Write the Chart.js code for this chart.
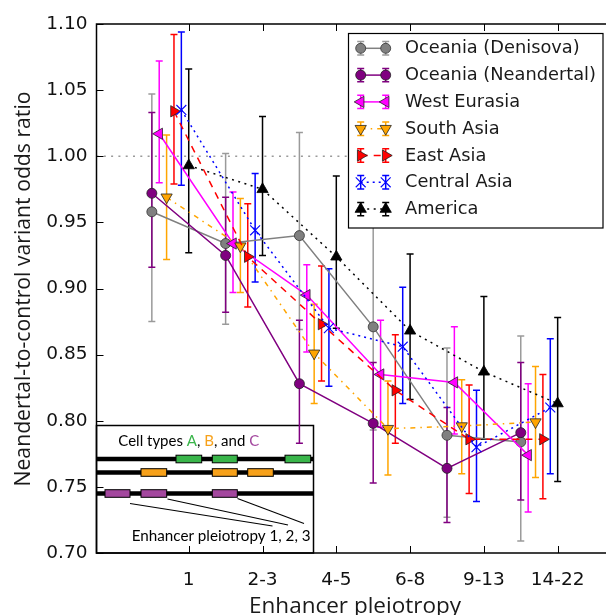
<!DOCTYPE html>
<html><head><meta charset="utf-8">
<script src="https://cdn.jsdelivr.net/npm/chart.js@4.4.1/dist/chart.umd.min.js"></script>
<style>html,body{margin:0;padding:0;overflow:hidden;background:#fff;width:606px;height:615px}canvas{display:block}</style>
</head><body>
<canvas id="c" width="625" height="615"></canvas>
<script>
// ---------- data ----------
const categories = ['1', '2-3', '4-5', '6-8', '9-13', '14-22'];
const yTickValues = [0.70, 0.75, 0.80, 0.85, 0.90, 0.95, 1.00, 1.05, 1.10];
const referenceLine = 1.00;
const seriesNames = ['Oceania (Denisova)', 'Oceania (Neandertal)', 'West Eurasia', 'South Asia', 'East Asia', 'Central Asia', 'America'];

const denisova     = [0.958, 0.934, 0.940, 0.871, 0.789, 0.784];
const denisovaLo   = [0.875, 0.873, 0.869, 0.793, 0.727, 0.709];
const denisovaHi   = [1.047, 1.002, 1.018, 0.955, 0.855, 0.864];

const neandertal   = [0.972, 0.925, 0.828, 0.798, 0.764, 0.791];
const neandertalLo = [0.916, 0.882, 0.783, 0.753, 0.723, 0.740];
const neandertalHi = [1.033, 0.969, 0.876, 0.844, 0.810, 0.844];

const westEurasia   = [1.017, 0.934, 0.895, 0.835, 0.829, 0.774];
const westEurasiaLo = [0.980, 0.897, 0.852, 0.795, 0.790, 0.731];
const westEurasiaHi = [1.072, 0.973, 0.918, 0.876, 0.871, 0.828];

const southAsia   = [0.969, 0.932, 0.851, 0.794, 0.796, 0.799];
const southAsiaLo = [0.922, 0.897, 0.813, 0.759, 0.760, 0.757];
const southAsiaHi = [1.016, 0.968, 0.888, 0.830, 0.831, 0.841];

const eastAsia   = [1.034, 0.924, 0.873, 0.823, 0.786, 0.786];
const eastAsiaLo = [0.979, 0.886, 0.830, 0.783, 0.745, 0.741];
const eastAsiaHi = [1.092, 0.964, 0.917, 0.865, 0.827, 0.835];

const centralAsia   = [1.035, 0.944, 0.870, 0.856, 0.780, 0.810];
const centralAsiaLo = [0.978, 0.905, 0.826, 0.813, 0.739, 0.760];
const centralAsiaHi = [1.094, 0.987, 0.915, 0.901, 0.823, 0.862];

const america   = [0.993, 0.975, 0.924, 0.868, 0.837, 0.813];
const americaLo = [0.927, 0.925, 0.870, 0.816, 0.786, 0.754];
const americaHi = [1.066, 1.030, 0.985, 0.926, 0.894, 0.878];

const xTitle = 'Enhancer pleiotropy';
const yTitle = 'Neandertal-to-control variant odds ratio';
const insetCaption = 'Enhancer pleiotropy 1, 2, 3';

// ---------- assembled ----------
const seriesValues = [denisova, neandertal, westEurasia, southAsia, eastAsia, centralAsia, america];
const seriesLo = [denisovaLo, neandertalLo, westEurasiaLo, southAsiaLo, eastAsiaLo, centralAsiaLo, americaLo];
const seriesHi = [denisovaHi, neandertalHi, westEurasiaHi, southAsiaHi, eastAsiaHi, centralAsiaHi, americaHi];

// ---------- styles ----------
const styles = [
  {color:'#808080', bar:'#9a9a9a', fill:'#808080', edge:'#333', ew:0.8, point:'circle',   rot:0,   r:5,   dash:[],            offset:-0.5},
  {color:'#800080', bar:'#800080', fill:'#800080', edge:'#222', ew:0.8, point:'circle',   rot:0,   r:5,   dash:[],            offset:-0.5},
  {color:'#ff00ff', bar:'#ff00ff', fill:'#ff00ff', edge:'#222', ew:0.8, point:'triangle', rot:-90, r:6.5, dash:[],            offset:-0.4},
  {color:'#ffa500', bar:'#ffa500', fill:'#ffa500', edge:'#222', ew:0.8, point:'triangle', rot:180, r:6.5, dash:[5,5,1.5,5],   offset:-0.3},
  {color:'#ff0000', bar:'#ff0000', fill:'#ff0000', edge:'#222', ew:0.8, point:'triangle', rot:90,  r:6.5, dash:[7,6],         offset:-0.2},
  {color:'#0000ff', bar:'#0000ff', fill:'#0000ff', edge:'#0000ff', ew:1.1, point:'crossRot', rot:0, r:7, dash:[2,4],           offset:-0.1},
  {color:'#000000', bar:'#000000', fill:'#000000', edge:'#000', ew:0.8, point:'triangle', rot:0,   r:6.5, dash:[2,4.5],       offset:0}
];
const GREEN = '#39b54a', ORANGE = '#f7a11a', PURPLE = '#a3479e';

function drawMarker(ctx, st, x, y) {
  ctx.save();
  ctx.setLineDash([]);
  ctx.fillStyle = st.fill; ctx.strokeStyle = st.edge; ctx.lineWidth = st.ew;
  ctx.beginPath();
  const r = st.r; let rad = st.rot * Math.PI / 180;
  if (st.point === 'circle') {
    ctx.arc(x, y, r, 0, Math.PI * 2); ctx.closePath(); ctx.fill(); ctx.stroke();
  } else if (st.point === 'triangle') {
    for (let k = 0; k < 3; k++) {
      const a = rad + k * 2 * Math.PI / 3;
      const px = x + Math.sin(a) * r, py = y - Math.cos(a) * r;
      if (k === 0) ctx.moveTo(px, py); else ctx.lineTo(px, py);
    }
    ctx.closePath(); ctx.fill(); ctx.stroke();
  } else {
    rad += Math.PI / 4;
    const xo = Math.cos(rad) * r, yo = Math.sin(rad) * r;
    ctx.moveTo(x - xo, y - yo); ctx.lineTo(x + xo, y + yo);
    ctx.moveTo(x + yo, y - xo); ctx.lineTo(x - yo, y + xo);
    ctx.stroke();
  }
  ctx.restore();
}

function errBar(ctx, px, top, bot, cap) {
  ctx.beginPath();
  ctx.moveTo(px, top); ctx.lineTo(px, bot);
  ctx.moveTo(px - cap, top); ctx.lineTo(px + cap, top);
  ctx.moveTo(px - cap, bot); ctx.lineTo(px + cap, bot);
  ctx.stroke();
}

function fitFont(ctx, text, family, targetWidth, weight) {
  ctx.font = (weight || '') + ' 20px "' + family + '"';
  const w = ctx.measureText(text).width;
  return 20 * targetWidth / w;
}

function drawInset(ctx, a) {
  const L = a.left, R = 313.5, T = 425.5, B = a.bottom;
  ctx.save();
  ctx.fillStyle = '#fff';
  ctx.fillRect(L, T, R - L, B - T);
  ctx.strokeStyle = '#000'; ctx.lineWidth = 1.5; ctx.setLineDash([]);
  ctx.strokeRect(L, T, R - L, B - T);
  const rows = [459, 472.5, 493.5];
  ctx.lineWidth = 4.5;
  rows.forEach(yy => { ctx.beginPath(); ctx.moveTo(L, yy); ctx.lineTo(R, yy); ctx.stroke(); });
  const boxes = [
    [GREEN,  0, [[176, 201.7], [212.3, 237.3], [285, 310.7]]],
    [ORANGE, 1, [[141, 166.7], [212.3, 237.3], [247.7, 273.3]]],
    [PURPLE, 2, [[105, 130], [141, 166.7], [212.3, 237.3]]]
  ];
  ctx.lineWidth = 1;
  boxes.forEach(([col, ri, segs]) => {
    segs.forEach(([x0, x1]) => {
      ctx.fillStyle = col;
      ctx.fillRect(x0, rows[ri] - 3.8, x1 - x0, 7.6);
      ctx.strokeRect(x0, rows[ri] - 3.8, x1 - x0, 7.6);
    });
  });
  ctx.lineWidth = 1.1;
  [[[130, 503.5], [272.5, 526]], [[167.5, 499], [288, 525]], [[237.5, 498.5], [304, 523.5]]].forEach(([p0, p1]) => {
    ctx.beginPath(); ctx.moveTo(p0[0], p0[1]); ctx.lineTo(p1[0], p1[1]); ctx.stroke();
  });
  const parts = [['Cell types ', '#000'], ['A', GREEN], [', ', '#000'], ['B', ORANGE], [', and ', '#000'], ['C', PURPLE]];
  const full = parts.map(p => p[0]).join('');
  const fs = fitFont(ctx, full, 'Lato', 141);
  ctx.font = fs.toFixed(2) + 'px "Lato"';
  ctx.textBaseline = 'alphabetic'; ctx.textAlign = 'left';
  let cx = 118.3;
  parts.forEach(([t, c]) => { ctx.fillStyle = c; ctx.fillText(t, cx, 445.5); cx += ctx.measureText(t).width; });
  const fs2 = fitFont(ctx, insetCaption, 'Lato', 179);
  ctx.font = fs2.toFixed(2) + 'px "Lato"';
  ctx.fillStyle = '#000';
  ctx.fillText(insetCaption, 131.7, 541);
  ctx.restore();
}

function drawLegend(ctx) {
  const lg = {l: 348.5, t: 33.5, r: 603, b: 228};
  ctx.save();
  ctx.setLineDash([]);
  ctx.fillStyle = '#fff';
  ctx.fillRect(lg.l, lg.t, lg.r - lg.l, lg.b - lg.t);
  ctx.strokeStyle = '#000'; ctx.lineWidth = 1.2;
  ctx.strokeRect(lg.l, lg.t, lg.r - lg.l, lg.b - lg.t);
  const m1 = 360.7, m2 = 385.7;
  seriesNames.forEach((name, i) => {
    const st = styles[i];
    const yy = 48.3 + i * 26.8;
    ctx.save();
    ctx.strokeStyle = st.color; ctx.lineWidth = 1.5; ctx.setLineDash(st.dash);
    ctx.beginPath(); ctx.moveTo(m1, yy); ctx.lineTo(m2, yy); ctx.stroke();
    ctx.setLineDash([]); ctx.strokeStyle = st.bar;
    errBar(ctx, m1, yy - 6.7, yy + 6.7, 3.5);
    errBar(ctx, m2, yy - 6.7, yy + 6.7, 3.5);
    ctx.restore();
    drawMarker(ctx, st, m1, yy);
    drawMarker(ctx, st, m2, yy);
    ctx.fillStyle = '#1a1a1a';
    ctx.font = '17.8px "DejaVu Sans"';
    ctx.textAlign = 'left'; ctx.textBaseline = 'middle';
    ctx.fillText(name, 405, yy + 0.5);
  });
  ctx.restore();
}

const decor = {
  id: 'decor',
  beforeDatasetsDraw(chart) {
    const {ctx, chartArea: a, scales: {x, y}} = chart;
    ctx.save();
    ctx.strokeStyle = '#9a9a9a'; ctx.lineWidth = 1.5; ctx.setLineDash([2, 5.3]);
    const y1 = y.getPixelForValue(referenceLine);
    ctx.beginPath(); ctx.moveTo(a.left, y1); ctx.lineTo(a.right, y1); ctx.stroke();
    ctx.restore();
    drawInset(ctx, a);
    ctx.save();
    ctx.lineWidth = 1.5; ctx.setLineDash([]);
    seriesValues.forEach((vals, i) => {
      ctx.strokeStyle = styles[i].bar;
      vals.forEach((v, j) => {
        const px = x.getPixelForValue(j + 1 + styles[i].offset);
        errBar(ctx, px, y.getPixelForValue(seriesHi[i][j]), y.getPixelForValue(seriesLo[i][j]), 3.5);
      });
    });
    ctx.restore();
  },
  afterDatasetsDraw(chart) {
    const {ctx, chartArea: a, scales: {x, y}} = chart;
    ctx.save();
    ctx.setLineDash([]);
    ctx.strokeStyle = '#000'; ctx.lineWidth = 1.5;
    ctx.strokeRect(a.left, a.top, a.right - a.left, a.bottom - a.top);
    ctx.lineWidth = 1;
    const tl = 7;
    ctx.beginPath();
    x.ticks.forEach(t => {
      const px = Math.round(x.getPixelForValue(t.value)) + 0.5;
      ctx.moveTo(px, a.bottom); ctx.lineTo(px, a.bottom - tl);
      ctx.moveTo(px, a.top); ctx.lineTo(px, a.top + tl);
    });
    y.ticks.forEach(t => {
      const py = Math.round(y.getPixelForValue(t.value)) + 0.5;
      ctx.moveTo(a.left, py); ctx.lineTo(a.left + tl, py);
      ctx.moveTo(a.right, py); ctx.lineTo(a.right - tl, py);
    });
    ctx.stroke();
    ctx.fillStyle = '#1a1a1a';
    ctx.font = '22.5px "Open Sans"';
    ctx.textAlign = 'center'; ctx.textBaseline = 'alphabetic';
    ctx.fillText(xTitle, 355, 613);
    ctx.translate(30, 289);
    ctx.rotate(-Math.PI / 2);
    ctx.font = '21.2px "Open Sans"';
    ctx.fillText(yTitle, 0, 0);
    ctx.restore();
    drawLegend(ctx);
  }
};

const chart = new Chart(document.getElementById('c'), {
  type: 'line',
  data: {
    datasets: seriesNames.map((name, i) => ({
      label: name,
      data: seriesValues[i].map((v, j) => ({x: j + 1 + styles[i].offset, y: v})),
      borderColor: styles[i].color,
      backgroundColor: styles[i].fill,
      borderWidth: 1.5,
      borderDash: styles[i].dash,
      pointStyle: styles[i].point,
      pointRotation: styles[i].rot,
      pointRadius: styles[i].r,
      pointHoverRadius: styles[i].r,
      pointBackgroundColor: styles[i].fill,
      pointBorderColor: styles[i].edge,
      pointBorderWidth: styles[i].ew,
      tension: 0,
      fill: false,
      order: seriesNames.length - 1 - i
    }))
  },
  options: {
    responsive: false,
    animation: false,
    devicePixelRatio: 1,
    events: [],
    layout: {padding: {left: 0, right: 12, top: 24, bottom: 0}},
    plugins: {legend: {display: false}, tooltip: {enabled: false}},
    scales: {
      x: {
        type: 'linear', min: -0.25, max: 6.75,
        grid: {display: false, drawTicks: false},
        border: {display: false},
        afterBuildTicks: s => { s.ticks = categories.map((c, i) => ({value: i + 1})); },
        afterFit: s => { s.height = 62; },
        ticks: {autoSkip: false, maxRotation: 0, minRotation: 0, padding: 16, color: '#111',
                font: {family: 'DejaVu Sans', size: 18.5}, callback: (v, i) => categories[i]}
      },
      y: {
        type: 'linear', min: 0.70, max: 1.10,
        grid: {display: false, drawTicks: false},
        border: {display: false},
        afterBuildTicks: s => { s.ticks = yTickValues.map(v => ({value: v})); },
        afterFit: s => { s.width = 96.5; },
        ticks: {padding: 9, color: '#111', font: {family: 'DejaVu Sans', size: 18.5},
                callback: v => Number(v).toFixed(2)}
      }
    }
  },
  plugins: [decor]
});
</script>
</body></html>
